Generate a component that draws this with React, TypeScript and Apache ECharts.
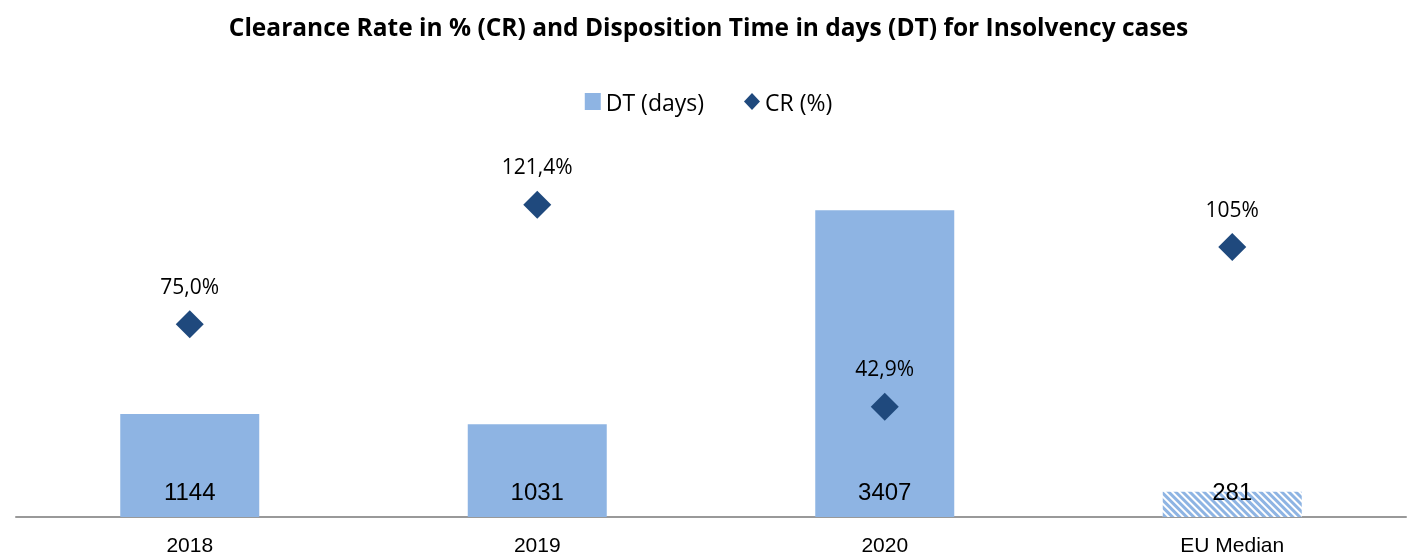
import React, { useEffect, useRef } from "react";
import * as echarts from "echarts";

const categories = ["2018", "2019", "2020", "EU Median"];
const dtValues = [1144, 1031, 3407, 281];
const crValues = [75.0, 121.4, 42.9, 105];
const crLabels = ["75,0%", "121,4%", "42,9%", "105%"];

const BAR_COLOR = "#8EB4E3";
const DIAMOND_COLOR = "#1F497D";
const CAL = "'Open Sans', Lato, sans-serif";
const ARIAL = "'Liberation Sans', Arial, sans-serif";

export default function App() {
  const ref = useRef<HTMLDivElement>(null);
  useEffect(() => {
    if (!ref.current) return;
    const chart = echarts.init(ref.current, undefined, { renderer: "svg" });
    const barData = dtValues.map((v, i) =>
      i === categories.length - 1
        ? {
            value: v,
            itemStyle: {
              color: "#ffffff",
              decal: {
                symbol: "rect",
                color: BAR_COLOR,
                dashArrayX: [1, 0],
                dashArrayY: [2.5, 2],
                rotation: Math.PI / 4,
              },
            },
          }
        : { value: v }
    );
    chart.setOption({
      animation: false,
      title: {
        text: "Clearance Rate in % (CR) and Disposition Time in days (DT) for Insolvency cases",
        left: "center",
        top: 9,
        textStyle: { fontFamily: CAL, fontWeight: "bold", fontSize: 24.5, color: "#000" },
      },
      legend: {
        top: 85,
        left: "center",
        itemGap: 40,
        itemWidth: 16,
        itemHeight: 17,
        textStyle: { fontFamily: CAL, fontSize: 23, color: "#000" },
        data: [
          { name: "DT (days)", icon: "rect" },
          { name: "CR (%)", icon: "diamond" },
        ],
      },
      grid: { left: 16, right: 11, top: 157, bottom: 41 },
      xAxis: {
        type: "category",
        data: categories,
        axisLine: { lineStyle: { color: "#999", width: 2 } },
        axisTick: { show: false },
        axisLabel: { fontFamily: ARIAL, fontSize: 21, color: "#000", margin: 17 },
      },
      yAxis: [
        { type: "value", min: 0, max: 4000, show: false },
        { type: "value", min: 0, max: 140, show: false },
      ],
      series: [
        {
          name: "DT (days)",
          type: "bar",
          data: barData,
          barWidth: "40%",
          itemStyle: { color: BAR_COLOR },
          label: {
            show: true,
            position: "insideBottom",
            distance: 14,
            fontFamily: ARIAL,
            fontSize: 24,
            color: "#000",
          },
        },
        {
          name: "CR (%)",
          type: "scatter",
          yAxisIndex: 1,
          data: crValues,
          symbol: "diamond",
          symbolSize: 28,
          itemStyle: { color: DIAMOND_COLOR, opacity: 1 },
          label: {
            show: true,
            position: "top",
            distance: 14,
            fontFamily: CAL,
            fontSize: 21,
            color: "#000",
            formatter: (p: any) => crLabels[p.dataIndex],
          },
        },
      ],
    });
    return () => chart.dispose();
  }, []);
  return (
    <div
      ref={ref}
      style={{ position: "fixed", left: 0, top: 0, width: 1417, height: 558 }}
    />
  );
}
